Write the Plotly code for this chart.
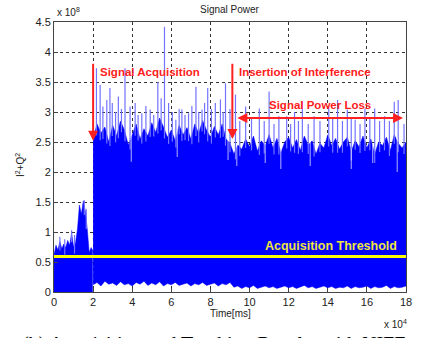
import numpy as np
import plotly.graph_objects as go

# ---- data (time in units of 1e4 ms, power in units of 1e8) ----
pre_t = [0.0, 0.1, 0.2, 0.3, 0.4, 0.5, 0.6, 0.7, 0.8, 0.9, 1.0, 1.1, 1.2, 1.3, 1.4, 1.5, 1.6, 1.7, 1.8, 1.9, 1.97]
pre_top = [0.62, 0.78, 0.70, 0.84, 0.72, 0.80, 0.74, 0.86, 0.78, 0.98, 0.76, 0.82, 1.05, 1.45, 1.30, 1.52, 1.35, 1.05, 0.66, 0.74, 0.70]

post_t = [2.0, 2.2, 2.4, 2.6, 2.8, 3.0, 3.2, 3.4, 3.6, 3.8, 4.0, 4.2, 4.4, 4.6, 4.8, 5.0, 5.2, 5.4, 5.6, 5.8,
          6.0, 6.2, 6.4, 6.6, 6.8, 7.0, 7.2, 7.4, 7.6, 7.8, 8.0, 8.2, 8.4, 8.6, 8.8, 9.0, 9.2, 9.4, 9.6, 9.8,
          10.0, 10.2, 10.4, 10.6, 10.8, 11.0, 11.2, 11.4, 11.6, 11.8, 12.0, 12.2, 12.4, 12.6, 12.8, 13.0, 13.2, 13.4, 13.6, 13.8,
          14.0, 14.2, 14.4, 14.6, 14.8, 15.0, 15.2, 15.4, 15.6, 15.8, 16.0, 16.2, 16.4, 16.6, 16.8, 17.0, 17.2, 17.4, 17.6, 17.8, 18.0]
post_top = [2.55, 2.80, 2.65, 2.75, 2.50, 2.78, 2.60, 2.85, 2.70, 2.45, 2.62, 2.80, 2.55, 2.72, 2.60, 2.82, 2.66, 2.90, 2.75, 2.58,
            2.70, 2.52, 2.78, 2.62, 2.74, 2.55, 2.80, 2.64, 2.86, 2.70, 2.58, 2.76, 2.62, 2.80, 2.55, 2.48, 2.30, 2.45, 2.38, 2.55,
            2.42, 2.60, 2.35, 2.52, 2.44, 2.62, 2.40, 2.56, 2.32, 2.50, 2.58, 2.40, 2.54, 2.36, 2.60, 2.45, 2.52, 2.30, 2.48, 2.40,
            2.62, 2.44, 2.56, 2.38, 2.50, 2.58, 2.34, 2.52, 2.42, 2.60, 2.40, 2.55, 2.30, 2.50, 2.44, 2.58, 2.36, 2.62, 2.48, 2.40, 2.50]
post_floor = [0.12, 0.16, 0.10, 0.18, 0.13, 0.15, 0.11, 0.17, 0.12, 0.14, 0.10, 0.16, 0.13, 0.18, 0.11, 0.15, 0.12, 0.17, 0.10, 0.14,
              0.12, 0.16, 0.11, 0.13, 0.15, 0.10, 0.14, 0.12, 0.16, 0.11, 0.13, 0.15, 0.10, 0.14, 0.12, 0.16, 0.08, 0.10, 0.06, 0.09,
              0.07, 0.11, 0.06, 0.08, 0.10, 0.07, 0.09, 0.06, 0.08, 0.10, 0.07, 0.09, 0.06, 0.08, 0.11, 0.07, 0.09, 0.06, 0.08, 0.10,
              0.07, 0.09, 0.06, 0.08, 0.07, 0.10, 0.06, 0.09, 0.07, 0.08, 0.10, 0.06, 0.09, 0.07, 0.08, 0.11, 0.06, 0.09, 0.07, 0.08, 0.10]

spike_t = [0.3, 0.55, 0.9, 1.05, 1.55, 1.65,
           2.17, 2.36, 2.50, 2.70, 2.86, 2.98, 3.15, 3.29, 3.45, 3.63, 3.89, 4.15, 4.30, 4.49, 4.70, 4.92, 5.10, 5.31, 5.48,
           5.65, 5.86, 6.05, 6.23, 6.40, 6.54, 6.70, 6.88, 7.05, 7.26, 7.40, 7.57, 7.70, 7.86, 8.05, 8.25, 8.51, 8.65, 8.77,
           9.00, 9.28, 9.50, 9.80, 10.10, 10.50, 10.75, 11.00, 11.25, 11.50, 11.90, 12.10, 12.30, 12.50, 12.70, 13.00, 13.30,
           13.60, 14.05, 14.25, 14.50, 14.75, 15.00, 15.20, 15.40, 15.65, 15.90, 16.15, 16.40, 16.65, 16.90, 17.15, 17.40, 17.60, 17.90]
spike_peak = [0.92, 0.88, 1.03, 0.95, 1.53, 1.38,
              3.73, 3.45, 3.09, 3.20, 3.40, 3.15, 3.00, 3.26, 3.05, 3.73, 3.09, 3.15, 2.95, 2.98, 3.10, 3.04, 2.95, 3.50, 3.23,
              4.42, 3.15, 3.00, 2.87, 3.05, 3.04, 2.95, 2.98, 3.10, 3.42, 3.00, 3.04, 3.15, 3.40, 3.05, 3.15, 3.21, 3.00, 3.48,
              3.05, 3.29, 2.85, 3.09, 2.90, 3.06, 2.85, 3.34, 2.80, 2.93, 2.93, 2.80, 3.00, 2.85, 3.18, 2.80, 2.93,
              2.85, 3.06, 2.90, 3.20, 2.85, 3.04, 2.90, 2.87, 2.80, 3.06, 2.90, 3.06, 2.85, 2.93, 2.85, 3.17, 3.20, 2.80]

dip_t = [3.95, 6.30, 8.90, 9.35, 10.80, 11.60, 13.10, 15.20, 16.30, 17.55]
dip_low = [2.17, 2.25, 2.20, 2.10, 2.15, 2.05, 2.10, 2.05, 2.15, 2.00]

threshold = 0.59
x_ticks = [0, 2, 4, 6, 8, 10, 12, 14, 16, 18]
y_ticks = [0, 0.5, 1, 1.5, 2, 2.5, 3, 3.5, 4, 4.5]
y_tick_text = ["0", "0.5", "1", "1.5", "2", "2.5", "3", "3.5", "4", "4.5"]

BLUE = "#0000ff"
fig = go.Figure()

# pre-acquisition block (0..2)
fig.add_trace(go.Scatter(x=[pre_t[0]] + pre_t + [pre_t[-1]], y=[0] + pre_top + [0],
                         fill="toself", fillcolor=BLUE, mode="lines", line=dict(width=0.5, color=BLUE),
                         hoverinfo="skip", showlegend=False))
# post-acquisition block
fig.add_trace(go.Scatter(x=post_t + post_t[::-1], y=post_top + post_floor[::-1],
                         fill="toself", fillcolor=BLUE, mode="lines", line=dict(width=0.5, color=BLUE),
                         hoverinfo="skip", showlegend=False))

all_t = pre_t + post_t
all_top = pre_top + post_top
sx, sy = [], []
for t, p in zip(spike_t, spike_peak):
    base = float(np.interp(t, all_t, all_top)) - 0.15
    sx += [t, t, None]
    sy += [base, p, None]
fig.add_trace(go.Scatter(x=sx, y=sy, mode="lines", line=dict(width=1.2, color="#7373ff"),
                         hoverinfo="skip", showlegend=False))

dx, dy = [], []
for t, lo in zip(dip_t, dip_low):
    top = float(np.interp(t, all_t, all_top)) + 0.05
    dx += [t, t, None]
    dy += [lo, top, None]
fig.add_trace(go.Scatter(x=dx, y=dy, mode="lines", line=dict(width=1, color="rgba(255,255,255,0.7)"),
                         hoverinfo="skip", showlegend=False))

fig.add_shape(type="line", xref="x", yref="y", x0=0, x1=18, y0=threshold, y1=threshold,
              line=dict(color="#ffff00", width=3), layer="above")

RED = "#ff2020"
ann = []
# arrows
ann.append(dict(x=2, y=2.52, ax=2, ay=3.83, xref="x", yref="y", axref="x", ayref="y",
                showarrow=True, arrowhead=2, arrowsize=1, arrowwidth=2, arrowcolor=RED, text=""))
ann.append(dict(x=9.12, y=2.55, ax=9.12, ay=3.83, xref="x", yref="y", axref="x", ayref="y",
                showarrow=True, arrowhead=2, arrowsize=1, arrowwidth=2, arrowcolor=RED, text=""))
ann.append(dict(x=17.85, y=2.9, ax=9.3, ay=2.9, xref="x", yref="y", axref="x", ayref="y",
                showarrow=True, arrowhead=2, startarrowhead=2, arrowside="end+start", arrowsize=1,
                arrowwidth=2, arrowcolor=RED, text=""))
textfont = dict(family="Arial, Liberation Sans", size=11.5, color=RED)
ann.append(dict(x=2.26, y=3.67, xref="x", yref="y", text="<b>Signal Acquisition</b>", showarrow=False,
                xanchor="left", yanchor="middle", font=textfont))
ann.append(dict(x=9.38, y=3.67, xref="x", yref="y", text="<b>Insertion of Interference</b>", showarrow=False,
                xanchor="left", yanchor="middle", font=textfont))
ann.append(dict(x=10.87, y=3.12, xref="x", yref="y", text="<b>Signal Power Loss</b>", showarrow=False,
                xanchor="left", yanchor="middle", font=textfont))
ann.append(dict(x=17.64, y=0.77, xref="x", yref="y", text="<b>Acquisition Threshold</b>", showarrow=False,
                xanchor="right", yanchor="middle",
                font=dict(family="Arial, Liberation Sans", size=12.5, color="#eee640")))
gray = "#222222"
ann.append(dict(x=0.5, y=1.0, xref="paper", yref="paper", yshift=13, text="Signal Power", showarrow=False,
                xanchor="center", yanchor="middle", font=dict(family="Arial, Liberation Sans", size=10, color=gray)))
ann.append(dict(x=0.003, y=1.0, xref="paper", yref="paper", yshift=10, text="x 10<sup>8</sup>", showarrow=False,
                xanchor="left", yanchor="middle", font=dict(family="Arial, Liberation Sans", size=10, color=gray)))
ann.append(dict(x=0.5, y=0.0, xref="paper", yref="paper", yshift=-21, text="Time[ms]", showarrow=False,
                xanchor="center", yanchor="middle", font=dict(family="Arial, Liberation Sans", size=10, color=gray)))
ann.append(dict(x=0.969, y=0.0, xref="paper", yref="paper", yshift=-32, text="x 10<sup>4</sup>", showarrow=False,
                xanchor="center", yanchor="middle", font=dict(family="Arial, Liberation Sans", size=10, color=gray)))
ann.append(dict(x=0.0, y=0.47, xref="paper", yref="paper", xshift=-34, text="I<sup>2</sup>+Q<sup>2</sup>",
                showarrow=False, textangle=-90, xanchor="center", yanchor="middle",
                font=dict(family="Arial, Liberation Sans", size=10, color=gray)))
ann.append(dict(x=0.0, y=0.0, xref="paper", yref="paper", xshift=-34, yshift=-39,
                text="(b) Acquisition and Tracking Results with NIFE", showarrow=False,
                xanchor="left", yanchor="top",
                font=dict(family="Liberation Serif, Times New Roman, serif", size=20, color="#000000")))

axis_common = dict(showline=True, mirror=True, linecolor="#444444", linewidth=1,
                   ticks="inside", ticklen=4, tickcolor="#444444",
                   showgrid=True, gridcolor="#333333", griddash="dot", gridwidth=1,
                   zeroline=False, tickfont=dict(family="Arial, Liberation Sans", size=11, color=gray))
fig.update_layout(
    width=438, height=338, margin=dict(l=54, r=32, t=22, b=46),
    paper_bgcolor="white", plot_bgcolor="white",
    xaxis=dict(range=[0, 18], tickvals=x_ticks, ticktext=[str(v) for v in x_ticks], **axis_common),
    yaxis=dict(range=[0, 4.5], tickvals=y_ticks, ticktext=y_tick_text, **axis_common),
    annotations=ann, showlegend=False,
)
fig.write_html("out.html")
